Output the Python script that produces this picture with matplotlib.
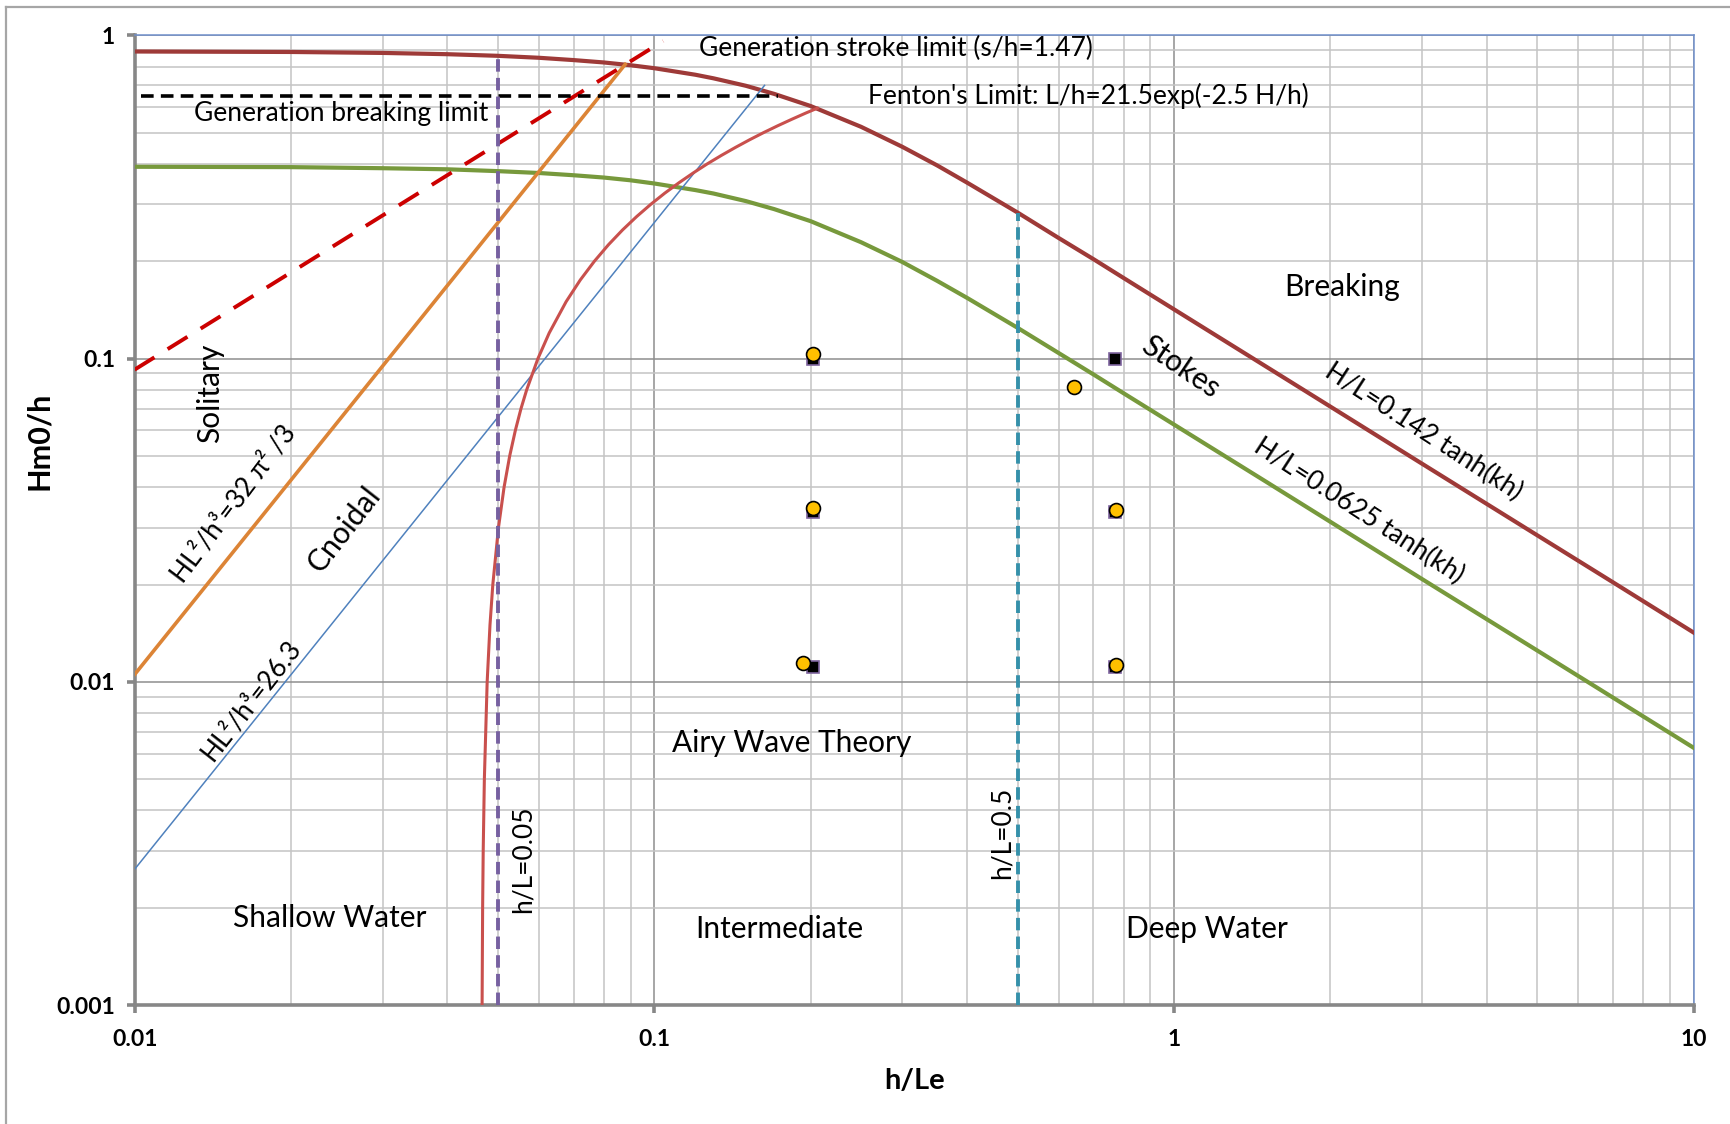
# wave theory applicability chart (log-log)
import matplotlib
matplotlib.use("Agg")
import matplotlib.pyplot as plt
from matplotlib.lines import Line2D

plt.rcParams["font.family"] = ["Lato", "DejaVu Sans"]

# breaking limit H/L=0.142 tanh(kh) and H/L=0.0625 tanh(kh)
x_curve = [0.01, 0.02, 0.03, 0.04, 0.05, 0.06, 0.07, 0.08, 0.09, 0.1, 0.12, 0.13, 0.15, 0.17,
           0.2, 0.25, 0.3, 0.35, 0.4, 0.5, 0.6, 0.7, 0.8, 1, 1.5, 2, 3, 5, 7, 10]
y_break = [0.891, 0.888, 0.882, 0.874, 0.864, 0.852, 0.838, 0.824, 0.808, 0.791, 0.755, 0.736,
           0.698, 0.659, 0.604, 0.521, 0.452, 0.396, 0.350, 0.283, 0.236, 0.203, 0.1775,
           0.142, 0.0947, 0.071, 0.0473, 0.0284, 0.0203, 0.0142]
y_steep = [0.392, 0.391, 0.388, 0.385, 0.380, 0.375, 0.369, 0.363, 0.356, 0.348, 0.332, 0.324,
           0.307, 0.290, 0.266, 0.229, 0.199, 0.174, 0.154, 0.1245, 0.104, 0.0893, 0.0781,
           0.0625, 0.0417, 0.03125, 0.0208, 0.0125, 0.00893, 0.00625]

# Ursell lines
x_ursell_sol = [0.01, 0.0879]
y_ursell_sol = [0.01053, 0.813]
x_ursell_cn = [0.01, 0.163]
y_ursell_cn = [0.00263, 0.70]

# Fenton's limit
y_fenton = [0.001, 0.002, 0.003, 0.005, 0.01, 0.015, 0.02, 0.03, 0.04, 0.05, 0.06, 0.07, 0.08,
            0.1, 0.12, 0.15, 0.175, 0.2, 0.225, 0.25, 0.275, 0.3, 0.325, 0.35, 0.375, 0.4,
            0.425, 0.45, 0.475, 0.5, 0.525, 0.55, 0.575, 0.595]
x_fenton = [0.04663, 0.04674, 0.04686, 0.0471, 0.04769, 0.04829, 0.0489, 0.05014, 0.0514,
            0.0527, 0.05404, 0.0554, 0.05681, 0.05972, 0.06278, 0.06767, 0.07204, 0.07669,
            0.08163, 0.08689, 0.0925, 0.09846, 0.1048, 0.1116, 0.1188, 0.1264, 0.1346,
            0.1433, 0.1525, 0.1623, 0.1728, 0.184, 0.1958, 0.206]

# generation limits
x_stroke = [0.01, 0.104]
y_stroke = [0.0924, 0.96]
x_gen_break = [0.0103, 0.173]
y_gen_break = [0.65, 0.65]

# depth limits
x_shallow = [0.05, 0.05]
y_shallow = [0.001, 0.864]
x_deep = [0.5, 0.5]
y_deep = [0.001, 0.283]

# test points
sq_x = [0.202, 0.202, 0.202, 0.771, 0.771, 0.771]
sq_y = [0.1, 0.0335, 0.0111, 0.1, 0.0335, 0.0111]
pt_x = [0.202, 0.202, 0.193, 0.641, 0.775, 0.775]
pt_y = [0.103, 0.0345, 0.0114, 0.0815, 0.0340, 0.0113]

fig = plt.figure(figsize=(17.3, 11.24), dpi=100)
ax = fig.add_axes([0.0778, 0.1058, 0.9012, 0.8628])
ax.set_xscale("log")
ax.set_yscale("log")
ax.set_xlim(0.01, 10)
ax.set_ylim(0.001, 1)

# grid
ax.grid(which="minor", color="#C4C4C4", linewidth=1.1, zorder=0)
ax.grid(which="major", color="#8E8E8E", linewidth=1.1, zorder=0)
ax.set_axisbelow(True)

# curves
ax.plot(x_curve, y_steep, color="#77993C", linewidth=3.0, zorder=3)
ax.plot(x_curve, y_break, color="#9E3A38", linewidth=3.0, zorder=3)
ax.plot(x_ursell_sol, y_ursell_sol, color="#DC8436", linewidth=2.6, zorder=3)
ax.plot(x_ursell_cn, y_ursell_cn, color="#4F81BD", linewidth=1.1, zorder=3)
ax.plot(x_fenton, y_fenton, color="#C9504D", linewidth=2.2, zorder=3)
ax.plot(x_stroke, y_stroke, color="#CC0000", linewidth=2.8, dashes=(6, 4), zorder=4)
ax.plot(x_gen_break, y_gen_break, color="black", linewidth=2.6, dashes=(3.5, 2), zorder=4)
ax.plot(x_shallow, y_shallow, color="#7660A0", linewidth=2.8, dashes=(3.2, 1.6), zorder=4)
ax.plot(x_deep, y_deep, color="#3590AA", linewidth=2.8, dashes=(3.2, 1.6), zorder=4)

# points
ax.plot(sq_x, sq_y, linestyle="none", marker="s", markersize=9, markerfacecolor="black",
        markeredgecolor="#7E649E", markeredgewidth=1.2, zorder=5)
ax.plot(pt_x, pt_y, linestyle="none", marker="o", markersize=10, markerfacecolor="#FFC000",
        markeredgecolor="black", markeredgewidth=1.2, zorder=6)

# axes styling
for side in ["left", "bottom"]:
    ax.spines[side].set_color("#878787")
    ax.spines[side].set_linewidth(2.6)
for side in ["top", "right"]:
    ax.spines[side].set_color("#6F8FCB")
    ax.spines[side].set_linewidth(1.1)

ax.set_xticks([0.01, 0.1, 1, 10])
ax.set_xticklabels(["0.01", "0.1", "1", "10"])
ax.set_yticks([0.001, 0.01, 0.1, 1])
ax.set_yticklabels(["0.001", "0.01", "0.1", "1"])
ax.tick_params(which="major", direction="out", length=6, width=2.6, color="#878787",
               labelsize=16.5, pad=8)
ax.tick_params(which="minor", length=0)
for lbl in ax.get_xticklabels() + ax.get_yticklabels():
    lbl.set_fontweight("bold")
ax.tick_params(axis="x", pad=11)

ax.set_xlabel("h/Le", fontsize=21, fontweight="bold")
ax.set_ylabel("Hm0/h", fontsize=22, fontweight="bold")
ax.xaxis.set_label_coords(0.5, -0.065)
ax.yaxis.set_label_coords(-0.0526, 0.582)

# annotations
small = 19
big = 21.5
ax.text(0.1217, 0.91, "Generation stroke limit (s/h=1.47)", fontsize=small, ha="left", va="center")
ax.text(0.258, 0.649, "Fenton's Limit: L/h=21.5exp(-2.5 H/h)", fontsize=small, ha="left", va="center")
ax.text(0.01302, 0.572, "Generation breaking limit", fontsize=small, ha="left", va="center")
ax.text(2.11, 0.1667, "Breaking", fontsize=big, ha="center", va="center")
ax.text(1.03, 0.0939, "Stokes", fontsize=big, ha="center", va="center", rotation=-34,
        rotation_mode="anchor")
ax.text(3.02, 0.0595, "H/L=0.142 tanh(kh)", fontsize=small, ha="center", va="center",
        rotation=-33, rotation_mode="anchor")
ax.text(2.27, 0.0338, "H/L=0.0625 tanh(kh)", fontsize=small, ha="center", va="center",
        rotation=-33, rotation_mode="anchor")
ax.text(0.01394, 0.0778, "Solitary", fontsize=big, ha="center", va="center", rotation=90,
        rotation_mode="anchor")
ax.text(0.01553, 0.0354, "HL²/h³=32 π² /3", fontsize=small, ha="center", va="center",
        rotation=53, rotation_mode="anchor")
ax.text(0.0253, 0.0296, "Cnoidal", fontsize=big, ha="center", va="center", rotation=52,
        rotation_mode="anchor")
ax.text(0.0168, 0.00875, "HL²/h³=26.3", fontsize=small, ha="center", va="center",
        rotation=52, rotation_mode="anchor")
ax.text(0.1842, 0.00649, "Airy Wave Theory", fontsize=big, ha="center", va="center")
ax.text(0.0559, 0.002823, "h/L=0.05", fontsize=small, ha="center", va="center", rotation=90,
        rotation_mode="anchor")
ax.text(0.4665, 0.003407, "h/L=0.5", fontsize=small, ha="center", va="center", rotation=90,
        rotation_mode="anchor")
ax.text(0.02376, 0.001862, "Shallow Water", fontsize=big, ha="center", va="center")
ax.text(0.1738, 0.001719, "Intermediate", fontsize=big, ha="center", va="center")
ax.text(1.158, 0.001719, "Deep Water", fontsize=big, ha="center", va="center")

# outer chart frame
fig.add_artist(Line2D([6 / 1730, 1], [1 - 7 / 1124, 1 - 7 / 1124], color="#A6A6A6", linewidth=1.6))
fig.add_artist(Line2D([6 / 1730, 6 / 1730], [0, 1 - 7 / 1124], color="#A6A6A6", linewidth=1.6))

fig.savefig("out.png", dpi=100)
